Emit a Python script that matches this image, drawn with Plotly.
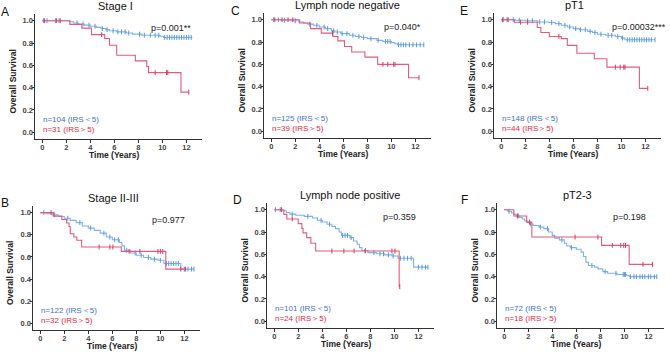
import plotly.graph_objects as go

# ---------------- data (years, survival) ----------------
# Panel A : Stage I
A_low_t = [0, 2.3, 2.6, 3.0, 3.5, 4.0, 4.5, 4.9, 5.3, 5.6, 6.2, 7.0, 7.5, 8.3, 9.8, 10.1, 12.5]
A_low_s = [1.0, 0.99, 0.98, 0.97, 0.96, 0.95, 0.94, 0.93, 0.92, 0.91, 0.90, 0.89, 0.88, 0.87, 0.86, 0.85, 0.85]
A_low_c = [0.1, 0.4, 1.1, 1.4, 2.9, 3.4, 3.9, 4.4, 5.0, 5.4, 5.9, 6.3, 6.6, 6.9, 7.2, 8.1, 8.5, 9.0, 9.4, 9.7,
           10.2, 10.4, 10.6, 10.8, 11.0, 11.2, 11.4, 11.6, 11.8, 12.0, 12.2, 12.4]
A_high_t = [0, 2.3, 3.3, 4.1, 5.2, 5.6, 6.2, 7.75, 8.7, 8.85, 11.55, 12.2]
A_high_s = [1.0, 0.967, 0.933, 0.875, 0.84, 0.78, 0.69, 0.64, 0.59, 0.535, 0.36, 0.36]
A_high_c = [0.2, 1.2, 1.5, 4.95, 9.4, 10.35, 10.45, 12.2]

# Panel B : Stage II-III
B_low_t = [0, 0.5, 1.0, 1.5, 2.0, 2.5, 3.0, 3.5, 4.0, 4.5, 5.0, 5.5, 6.0, 6.6, 6.8, 7.0, 7.5, 8.0, 8.6, 9.2, 9.8, 10.3, 11.7, 12.8]
B_low_s = [1.0, 0.99, 0.98, 0.965, 0.95, 0.93, 0.91, 0.88, 0.86, 0.84, 0.815, 0.78, 0.755, 0.73, 0.70, 0.66, 0.635, 0.615, 0.595, 0.58, 0.57, 0.54, 0.49, 0.49]
B_low_c = [0.3, 1.2, 2.3, 3.3, 4.2, 5.3, 5.8, 6.2, 6.5, 7.2, 7.9, 8.4, 9.0, 9.5, 10.0, 10.5, 10.7, 10.9, 11.1,
           11.3, 11.5, 12.0, 12.3, 12.6, 12.8]
B_high_t = [0, 1.1, 1.8, 2.2, 2.4, 2.5, 2.8, 3.05, 3.45, 6.75, 10.45, 12.1]
B_high_s = [1.0, 0.969, 0.938, 0.906, 0.875, 0.81, 0.78, 0.75, 0.69, 0.65, 0.49, 0.49]
B_high_c = [0.9, 4.9, 5.8, 6.05, 7.4, 8.3, 9.8, 10.0, 10.2, 11.7, 12.1]

# Panel C : Lymph node negative
C_low_t = [0, 0.8, 1.6, 2.3, 2.7, 3.0, 3.5, 4.0, 4.5, 5.0, 5.3, 5.8, 6.5, 7.0, 7.5, 8.0, 8.8, 9.3, 10.0, 10.3, 10.5, 12.7]
C_low_s = [1.0, 0.995, 0.99, 0.98, 0.97, 0.96, 0.95, 0.935, 0.92, 0.90, 0.89, 0.875, 0.86, 0.85, 0.84, 0.83, 0.815, 0.805, 0.795, 0.785, 0.775, 0.775]
C_low_c = [0.2, 0.6, 1.1, 2.0, 3.2, 3.8, 4.4, 4.7, 5.2, 5.5, 5.9, 6.3, 6.8, 7.3, 7.7, 8.3, 8.9, 9.5, 9.7, 9.9,
           10.6, 10.8, 11.0, 11.2, 11.5, 11.8, 12.1, 12.4, 12.7]
C_high_t = [0, 2.37, 3.28, 4.17, 5.14, 5.55, 6.1, 6.7, 7.8, 8.86, 11.43, 12.3]
C_high_s = [1.0, 0.97, 0.92, 0.88, 0.85, 0.81, 0.76, 0.71, 0.665, 0.60, 0.48, 0.48]
C_high_c = [0.3, 0.9, 1.4, 1.8, 5.1, 9.3, 9.7, 10.2, 10.3, 12.3]

# Panel D : Lymph node positive
D_low_t = [0, 0.6, 1.0, 1.3, 1.8, 2.5, 3.2, 3.6, 4.0, 4.4, 4.8, 5.1, 5.4, 5.6, 6.3, 6.6, 6.9, 7.1, 7.3, 7.8, 8.5, 9.2, 9.8, 10.3, 11.6, 12.8]
D_low_s = [1.0, 0.99, 0.975, 0.96, 0.95, 0.94, 0.925, 0.905, 0.89, 0.87, 0.85, 0.83, 0.80, 0.77, 0.75, 0.72, 0.69, 0.66, 0.635, 0.615, 0.605, 0.595, 0.585, 0.565, 0.485, 0.485]
D_low_c = [0.1, 0.5, 1.5, 2.8, 3.9, 4.6, 5.7, 5.9, 6.1, 6.4, 7.6, 8.3, 8.8, 9.1, 9.5, 9.9, 10.5, 10.8, 11.1,
           11.4, 12.0, 12.3, 12.6, 12.8]
D_high_t = [0, 0.8, 1.05, 2.0, 2.3, 2.4, 2.7, 3.05, 3.45, 10.4, 10.45]
D_high_s = [1.0, 0.958, 0.917, 0.875, 0.833, 0.792, 0.75, 0.70, 0.63, 0.31, 0.31]
D_high_c = [0.6, 1.5, 4.8, 5.8, 6.65, 7.56, 9.8, 10.05, 10.45]

# Panel E : pT1
E_low_t = [0, 1.2, 2.0, 3.0, 4.0, 4.5, 5.0, 5.5, 6.0, 6.5, 7.2, 7.6, 8.0, 8.7, 9.5, 10.0, 10.3, 12.8]
E_low_s = [1.0, 0.995, 0.99, 0.98, 0.975, 0.965, 0.95, 0.935, 0.92, 0.91, 0.895, 0.885, 0.87, 0.86, 0.85, 0.835, 0.82, 0.82]
E_low_c = [0.2, 0.6, 1.0, 1.5, 2.2, 2.6, 3.2, 3.6, 4.2, 4.8, 5.3, 5.7, 6.2, 6.6, 7.0, 7.4, 7.8, 8.3, 8.9, 9.2,
           9.7, 10.1, 10.5, 10.7, 10.9, 11.1, 11.3, 11.5, 11.7, 11.9, 12.1, 12.3, 12.5, 12.8]
E_high_t = [0, 1.1, 3.0, 3.3, 4.0, 5.0, 5.5, 6.3, 7.75, 8.8, 11.5, 12.2]
E_high_s = [1.0, 0.977, 0.93, 0.885, 0.85, 0.83, 0.77, 0.70, 0.65, 0.575, 0.385, 0.385]
E_high_c = [0.1, 0.5, 1.6, 2.2, 4.8, 9.5, 9.9, 10.2, 10.3, 12.2]

# Panel F : pT2-3
F_low_t = [0, 0.3, 0.6, 0.8, 1.0, 1.3, 1.5, 1.7, 1.9, 2.1, 2.4, 2.9, 3.3, 3.7, 4.0, 4.2, 4.6, 5.0, 5.2, 5.5, 6.0,
           6.4, 6.6, 6.8, 7.0, 7.5, 7.8, 8.2, 8.6, 9.4, 10.2, 10.4, 12.7]
F_low_s = [1.0, 0.986, 0.972, 0.958, 0.944, 0.93, 0.916, 0.90, 0.886, 0.872, 0.858, 0.844, 0.83, 0.80, 0.77, 0.745,
           0.73, 0.70, 0.675, 0.66, 0.645, 0.62, 0.58, 0.53, 0.50, 0.485, 0.47, 0.445, 0.43, 0.42, 0.41, 0.40, 0.40]
F_low_c = [0.4, 1.2, 2.2, 3.0, 3.6, 4.8, 5.6, 7.3, 8.4, 9.3, 9.9, 10.0, 10.1, 10.5, 10.8, 11.0, 11.3, 11.5, 11.7,
           12.0, 12.2, 12.5, 12.7]
F_high_t = [0, 0.8, 1.87, 2.3, 8.1, 10.4, 12.35]
F_high_s = [1.0, 0.944, 0.889, 0.755, 0.68, 0.51, 0.51]
F_high_c = [1.1, 2.1, 5.9, 7.8, 9.0, 9.7, 9.95, 10.1, 11.55, 12.35]

letters = ["A", "B", "C", "D", "E", "F"]
titles = ["Stage I", "Stage II-III", "Lymph node negative", "Lymph node positive", "pT1", "pT2-3"]
pvalues = ["p=0.001**", "p=0.977", "p=0.040*", "p=0.359", "p=0.00032***", "p=0.198"]
n_low = ["n=104 (IRS＜5)", "n=122 (IRS＜5)", "n=125 (IRS＜5)", "n=101 (IRS＜5)", "n=148 (IRS＜5)", "n=72 (IRS＜5)"]
n_high = ["n=31 (IRS＞5)", "n=32 (IRS＞5)", "n=39 (IRS＞5)", "n=24 (IRS＞5)", "n=44 (IRS＞5)", "n=18 (IRS＞5)"]
x_ticks = [0, 2, 4, 6, 8, 10, 12]
y_ticks = [0.0, 0.2, 0.4, 0.6, 0.8, 1.0]
y_ticklabels = ["0.0", "0.2", "0.4", "0.6", "0.8", "1.0"]

curves = {
    "A": (A_low_t, A_low_s, A_low_c, A_high_t, A_high_s, A_high_c),
    "B": (B_low_t, B_low_s, B_low_c, B_high_t, B_high_s, B_high_c),
    "C": (C_low_t, C_low_s, C_low_c, C_high_t, C_high_s, C_high_c),
    "D": (D_low_t, D_low_s, D_low_c, D_high_t, D_high_s, D_high_c),
    "E": (E_low_t, E_low_s, E_low_c, E_high_t, E_high_s, E_high_c),
    "F": (F_low_t, F_low_s, F_low_c, F_high_t, F_high_s, F_high_c),
}

# ---------------- layout (pixels) ----------------
W, H = 670, 352
boxes = {
    "A": (35, 14, 139), "C": (264, 13, 138), "E": (494, 13, 138),
    "B": (33, 206, 330), "D": (267, 203, 328), "F": (497, 203, 328),
}
p_right = {"A": 193, "C": 423, "E": 668, "B": 187, "D": 418, "F": 648}
PW = 167
XR = [-0.6, 13.3]
YR = [-0.06, 1.06]

BLUE_LINE = "#7db2ec"
BLUE_MARK = "#5a96e2"
RED_LINE = "#e35b7b"
RED_MARK = "#dc3a5c"
BLUE_TXT = "#4470c8"
RED_TXT = "#e3263c"
FONT = "Liberation Sans, Arial, sans-serif"


def fx(p):
    return p / W


def fy(p):
    return 1 - p / H


def step_at(ts, ss, t):
    v = ss[0]
    for ti, si in zip(ts, ss):
        if ti <= t:
            v = si
    return v


fig = go.Figure()
annotations = []

for i, key in enumerate(letters):
    L, T, B = boxes[key]
    ax = "" if i == 0 else str(i + 1)
    xa, ya = "x" + ax, "y" + ax
    lt, ls, lc, ht, hs, hc = curves[key]
    for ts, ss, cs, lcol, mcol in ((lt, ls, lc, BLUE_LINE, BLUE_MARK), (ht, hs, hc, RED_LINE, RED_MARK)):
        fig.add_trace(go.Scatter(x=ts, y=ss, mode="lines", line=dict(color=lcol, width=1.1, shape="hv"),
                                 xaxis=xa, yaxis=ya, showlegend=False, hoverinfo="skip"))
        fig.add_trace(go.Scatter(x=cs, y=[step_at(ts, ss, c) for c in cs], mode="markers",
                                 marker=dict(symbol="line-ns", size=3.5, line=dict(color=mcol, width=1)),
                                 xaxis=xa, yaxis=ya, showlegend=False, hoverinfo="skip"))
    axis_common = dict(showline=True, linecolor="#333333", linewidth=1, ticks="outside", ticklen=2.5,
                       tickwidth=1, tickcolor="#333333", showgrid=False, zeroline=False,
                       tickfont=dict(family=FONT, size=7.5, color="#444444", weight="bold"))
    fig.layout["xaxis" + ax] = dict(domain=[fx(L), fx(L + PW)], range=XR, anchor=ya,
                                    tickvals=x_ticks, ticklabelstandoff=-2, **axis_common)
    fig.layout["yaxis" + ax] = dict(domain=[fy(B), fy(T)], range=YR, anchor=xa,
                                    tickvals=y_ticks, ticktext=y_ticklabels, ticklabelstandoff=-3,
                                    **axis_common)

    x0 = L + 7.2  # pixel of year 0
    ppy = PW / (XR[1] - XR[0])
    cx = x0 + 6 * ppy
    annotations.append(dict(text=titles[i], x=fx(L + PW / 2 - 3 + (3 if key in "CD" else 0)), y=fy(T - 8),
                            xanchor="center", yanchor="middle",
                            font=dict(family=FONT, size=11, color="#111111")))
    letter_x = {"A": 5, "B": 5, "C": 236, "D": 237, "E": 464, "F": 464}[key]
    annotations.append(dict(text=key, x=fx(letter_x), y=fy(T - 2 if T < 100 else T - 3), xanchor="center",
                            yanchor="middle", font=dict(family=FONT, size=12, color="#111111")))
    annotations.append(dict(text=pvalues[i], x=fx(p_right[key]), y=fy(T + 14), xanchor="right",
                            yanchor="middle", font=dict(family=FONT, size=9, color="#222222")))
    annotations.append(dict(text=n_low[i], x=fx(x0 - 1), y=fy(B - 20), xanchor="left", yanchor="middle",
                            font=dict(family=FONT, size=8, color=BLUE_TXT)))
    annotations.append(dict(text=n_high[i], x=fx(x0 - 1), y=fy(B - 10), xanchor="left", yanchor="middle",
                            font=dict(family=FONT, size=8, color=RED_TXT)))
    annotations.append(dict(text="<b>Time (Years)</b>", x=fx(cx), y=fy(B + 16), xanchor="center",
                            yanchor="middle", font=dict(family=FONT, size=8.5, color="#222222")))
    annotations.append(dict(text="<b>Overall Survival</b>", x=fx(L - 23), y=fy((T + B) / 2 + 5),
                            xanchor="center", yanchor="middle", textangle=-90,
                            font=dict(family=FONT, size=8.5, color="#222222")))

for a in annotations:
    a.update(xref="paper", yref="paper", showarrow=False)

fig.update_layout(width=W, height=H, margin=dict(l=0, r=0, t=0, b=0), paper_bgcolor="white",
                  plot_bgcolor="white", annotations=annotations, showlegend=False)

fig.write_html("out.html", config={"displayModeBar": False, "staticPlot": True},
               post_script="document.body.style.margin='0px';document.body.style.overflow='hidden';")
